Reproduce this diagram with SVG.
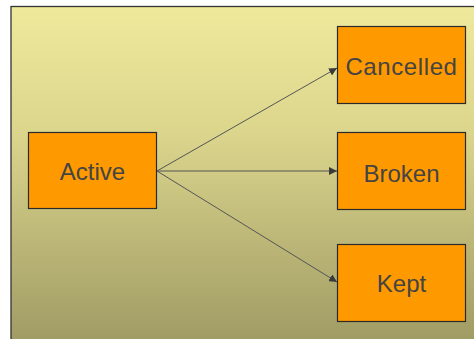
<svg xmlns="http://www.w3.org/2000/svg" width="474" height="339" viewBox="0 0 474 339">
<style>
.box{fill:#FF9900;stroke:#2a2a2a;stroke-width:1.2}
.lbl{font-family:"Liberation Sans",Arial,sans-serif;font-size:24px;fill:#444;text-anchor:middle}
.edge{stroke:#555;stroke-width:1;fill:none;marker-end:url(#ah)}
</style>
<defs>
<linearGradient id="bg" x1="0" y1="0" x2="0" y2="1">
<stop offset="0" stop-color="#EEE99B"/>
<stop offset="0.35" stop-color="#DDD78E"/>
<stop offset="1" stop-color="#9E9A63"/>
</linearGradient>
<marker id="ah" viewBox="0 0 10 10" refX="10" refY="5" markerWidth="8" markerHeight="8" markerUnits="userSpaceOnUse" orient="auto">
<path d="M0,0 L10,5 L0,10 z" fill="#3a3a3a"/>
</marker>
</defs>
<rect x="0" y="0" width="474" height="339" fill="#fff"/>
<rect x="11" y="6.5" width="470" height="340" fill="url(#bg)" stroke="#333" stroke-width="1.3"/>
<g id="connectors">
<line class="edge" x1="157" y1="171" x2="337" y2="68"/>
<line class="edge" x1="157" y1="171" x2="337" y2="171"/>
<line class="edge" x1="157" y1="171" x2="337" y2="282"/>
</g>
<g id="active">
<rect class="box" x="28.5" y="132.5" width="128" height="76"/>
<text class="lbl" x="92.5" y="179.5">Active</text>
</g>
<g id="cancelled">
<rect class="box" x="337.5" y="26.5" width="128" height="77"/>
<text class="lbl" x="401.5" y="75" letter-spacing="0.6">Cancelled</text>
</g>
<g id="broken">
<rect class="box" x="337.5" y="132.5" width="128" height="77"/>
<text class="lbl" x="401.5" y="181.5">Broken</text>
</g>
<g id="kept">
<rect class="box" x="337.5" y="244.5" width="128" height="77"/>
<text class="lbl" x="401.5" y="291.5">Kept</text>
</g>
</svg>
